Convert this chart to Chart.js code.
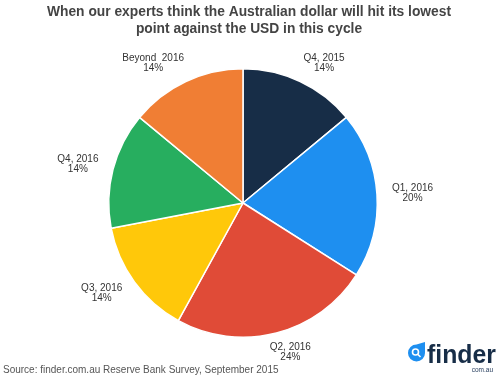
<!DOCTYPE html>
<html>
<head>
<meta charset="utf-8">
<script src="https://cdn.jsdelivr.net/npm/chart.js@4"></script>
<style>
  html, body { margin: 0; padding: 0; background: #fff; }
  #wrap { width: 499px; height: 378px; position: relative; }
</style>
</head>
<body>
<div id="wrap"><canvas id="pie" width="499" height="378"></canvas></div>
<script>
// data
const periods = ['Q4, 2015', 'Q1, 2016', 'Q2, 2016', 'Q3, 2016', 'Q4, 2016', 'Beyond  2016'];
const shares = [14, 20, 24, 14, 14, 14];
const sliceColors = ['#172d47', '#1e8ff0', '#e04b37', '#ffc80a', '#27ae5f', '#f07e34'];
const titleLines = ['When our experts think the Australian dollar will hit its lowest',
                    'point against the USD in this cycle'];
const sourceText = 'Source: finder.com.au Reserve Bank Survey, September 2015';

// labels outside each slice + title / footer text
const decorations = {
    id: 'decorations',
    afterDatasetsDraw(chart) {
        const c = chart.ctx;
        const meta = chart.getDatasetMeta(0);
        c.save();
        c.fillStyle = '#333';
        c.font = '10px "Liberation Sans", Arial, sans-serif';
        c.textAlign = 'center';
        c.textBaseline = 'middle';
        meta.data.forEach(function (arc, i) {
            const mid = (arc.startAngle + arc.endAngle) / 2;
            const cos = Math.cos(mid);
            const ax = arc.x + cos * (arc.outerRadius + 15);
            const ay = arc.y + Math.sin(mid) * (arc.outerRadius + 20);
            const l1 = periods[i], l2 = shares[i] + '%';
            const w = Math.max(c.measureText(l1).width, c.measureText(l2).width);
            // push the text block away from the pie, less so near top/bottom
            const cx = ax + Math.sign(cos) * Math.min(1, Math.abs(cos) * 2) * w / 2;
            c.fillText(l1, cx, ay - 5);
            c.fillText(l2, cx, ay + 5);
        });

        // title
        c.fillStyle = '#444';
        c.font = 'bold 13.8px "Liberation Sans", Arial, sans-serif';
        c.fillText(titleLines[0], 249, 12);
        c.fillText(titleLines[1], 249, 29);

        // source
        c.textAlign = 'left';
        c.fillStyle = '#555';
        c.font = '10px "Liberation Sans", Arial, sans-serif';
        c.fillText(sourceText, 3, 370);

        // finder logo
        c.fillStyle = '#1e8ff0';
        c.beginPath();
        c.moveTo(425, 342);
        c.lineTo(425, 353);
        c.arc(416.5, 353, 8.5, 0, Math.PI * 1.5, false);
        c.closePath();
        c.fill();
        c.strokeStyle = '#fff';
        c.lineWidth = 1.6;
        c.beginPath();
        c.arc(415.5, 352, 3, 0, Math.PI * 2);
        c.stroke();
        c.beginPath();
        c.moveTo(417.7, 354.2);
        c.lineTo(420.5, 357);
        c.stroke();
        c.fillStyle = '#172d47';
        c.font = 'bold 25px "Liberation Sans", Arial, sans-serif';
        c.textBaseline = 'alphabetic';
        const fw = c.measureText('finder').width;
        c.save();
        c.translate(427, 363);
        c.scale(69 / fw, 1);
        c.fillText('finder', 0, 0);
        c.restore();
        c.font = '6.5px "Liberation Sans", Arial, sans-serif';
        c.textAlign = 'right';
        c.fillStyle = '#2a4060';
        c.fillText('com.au', 493, 372);
        c.restore();
    }
};

const config = {
    type: 'pie',
    data: {
        labels: periods,
        datasets: [{
            data: shares,
            backgroundColor: sliceColors,
            borderColor: '#fff',
            borderWidth: 1.5
        }]
    },
    options: {
        responsive: false,
        animation: false,
        layout: {
            padding: { left: 108, right: 121, top: 68, bottom: 40 }
        },
        plugins: {
            legend: { display: false },
            title: { display: false },
            tooltip: { enabled: false }
        }
    },
    plugins: [decorations]
};
var pieChart = new Chart(document.getElementById('pie'), config);
</script>
</body>
</html>
